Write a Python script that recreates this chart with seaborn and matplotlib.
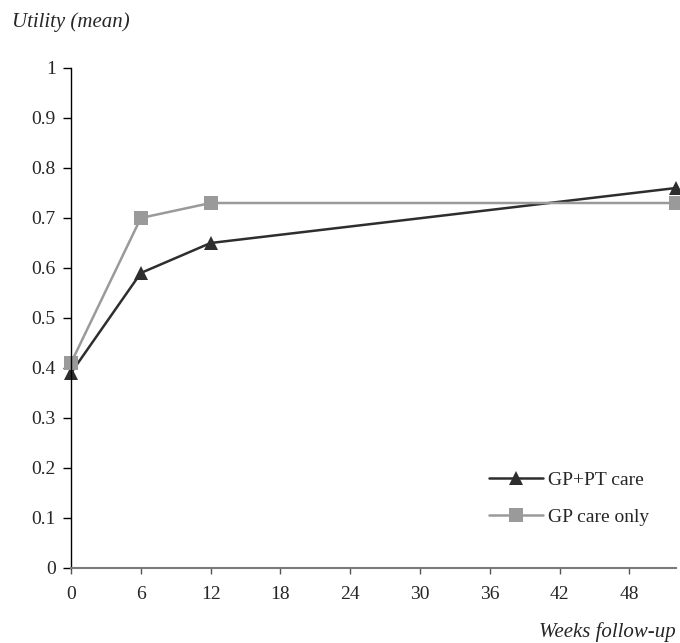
import pandas as pd
import seaborn as sns
import matplotlib.pyplot as plt

# Values
weeks = [0, 6, 12, 52]
gp_pt_care = [0.39, 0.59, 0.65, 0.76]
gp_care_only = [0.41, 0.70, 0.73, 0.73]
groups = ['GP+PT care', 'GP care only']
x_ticks = [0, 6, 12, 18, 24, 30, 36, 42, 48]
y_ticks = [0, 0.1, 0.2, 0.3, 0.4, 0.5, 0.6, 0.7, 0.8, 0.9, 1]

df = pd.DataFrame({
    'week': weeks * 2,
    'utility': gp_pt_care + gp_care_only,
    'group': [groups[0]] * len(weeks) + [groups[1]] * len(weeks),
})

sns.set_style('white')
plt.rcParams['font.family'] = ['Liberation Serif', 'DejaVu Serif']

fig = plt.figure(figsize=(6.8, 6.43), dpi=100)
ax = fig.add_axes([71 / 680, 75 / 643, 605 / 680, 500 / 643])

sns.lineplot(data=df, x='week', y='utility', hue='group', style='group',
             hue_order=groups, style_order=groups,
             palette={groups[0]: '#2e2e2e', groups[1]: '#9a9a9a'},
             markers={groups[0]: '^', groups[1]: 's'}, dashes=False,
             markersize=10.5, markeredgewidth=0, linewidth=1.8,
             clip_on=False, ax=ax)

ax.set_xlim(0, 52)
ax.set_ylim(0, 1)
ax.set_xticks(x_ticks)
ax.set_yticks(y_ticks)
ax.set_yticklabels(['0' if v == 0 else ('1' if v == 1 else f'{v:.1f}') for v in y_ticks])
ax.set_xlabel('')
ax.set_ylabel('')

for s in ['top', 'right']:
    ax.spines[s].set_visible(False)
ax.spines['left'].set_color('black')
ax.spines['left'].set_linewidth(1.0)
ax.spines['bottom'].set_color('#7a7a7a')
ax.spines['bottom'].set_linewidth(1.5)

ax.tick_params(axis='y', direction='out', length=6, width=1, color='black',
               pad=5, labelsize=14, left=True)
ax.tick_params(axis='x', direction='out', length=4, width=1, color='#555555',
               pad=9, labelsize=14, bottom=True)

leg = ax.legend(loc='upper left', bbox_to_anchor=(489 / 680, 1 - 471 / 643),
                bbox_transform=fig.transFigure, borderaxespad=0, borderpad=0,
                frameon=False, fontsize=14, handlelength=2.8,
                handletextpad=0.25, labelspacing=1.0, title=None)

fig.text(12 / 680, 1 - 22 / 643, 'Utility (mean)', style='italic',
         fontsize=15, ha='left', va='center')
fig.text(676 / 680, 1 - 632 / 643, 'Weeks follow-up', style='italic',
         fontsize=15, ha='right', va='center')

fig.savefig('out.png', dpi=100)
